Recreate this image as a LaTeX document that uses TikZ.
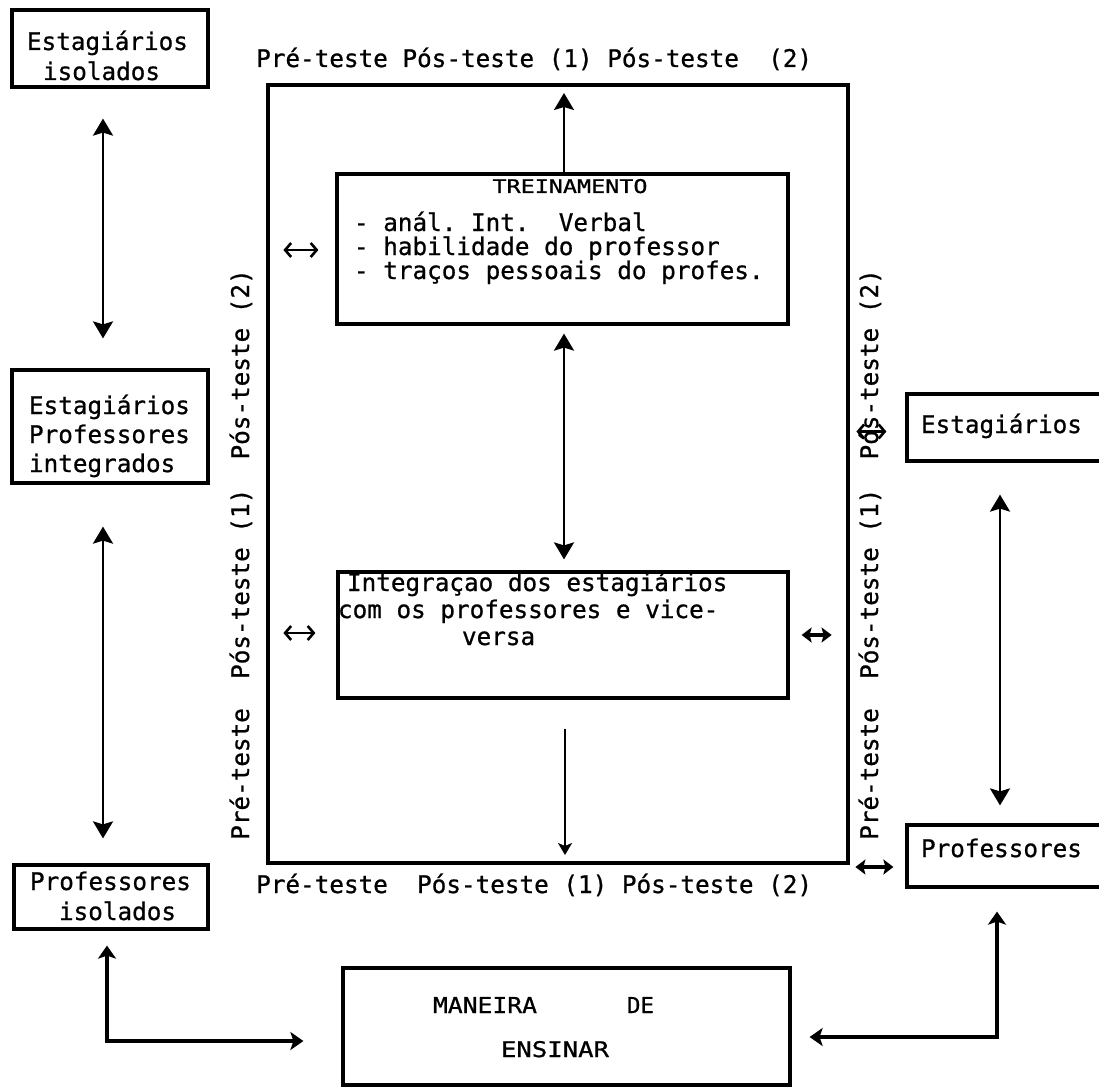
\documentclass[tikz,border=0pt]{standalone}
\usepackage{fontspec}
\usepackage{graphicx}
\usetikzlibrary{arrows.meta}
\newfontfamily\tw{DejaVu Sans Mono}[FakeBold=0.8]
\newcommand\bodyfont{\tw\fontsize{24.3}{29}\selectfont\frenchspacing}
\newcommand\fl{\rule{0pt}{21pt}}
% width, height, first baseline from top, baselineskip, content
\newcommand\tbox[5]{\parbox[c][#2][t]{#1}{\bodyfont\lineskiplimit=-100pt\relax\baselineskip=#4\relax\vspace*{\dimexpr#3-21pt\relax}#5\par}}
\tikzset{
  box/.style={draw, line width=3.2pt, inner sep=0pt, rectangle},
  lbl/.style={inner sep=0pt, font=\bodyfont},
  tall/.style={line width=2.6pt, {Stealth[length=17pt,width=20pt,inset=3pt]}-{Stealth[length=17pt,width=20pt,inset=3pt]}},
  single/.style={line width=2.4pt, -{Stealth[length=17pt,width=20pt,inset=3pt]}},
  thinarr/.style={line width=2pt, -{Stealth[length=12pt,width=14pt,inset=3pt]}},
  elbow/.style={line width=3.2pt, {Stealth[length=13pt,width=18pt,inset=3pt]}-{Stealth[length=13pt,width=18pt,inset=3pt]}},
  barb/.style={line width=2.6pt, {Straight Barb[length=6pt,width=14pt]}-{Straight Barb[length=6pt,width=14pt]}},
  boldbi/.style={line width=3.2pt, {Stealth[length=10pt,width=15pt,inset=2pt]}-{Stealth[length=10pt,width=15pt,inset=2pt]}}
}
\begin{document}
\begin{tikzpicture}[x=1pt,y=-1pt]
\fill[white] (0,0) rectangle (1099,1091);
\useasboundingbox (0,0) rectangle (1099,1091);

% left column
\node[box] (b1) at (110,48.5) {\tbox{196pt}{77pt}{40pt}{30pt}{\raggedright\hspace*{15pt}\fl Estagiários\\\hspace*{31pt}isolados}};
\node[box] (b2) at (110,426.5) {\tbox{196pt}{113pt}{44pt}{29pt}{\raggedright\leftskip=17pt\fl Estagiários\\Professores\\integrados}};
\node[box] (b3) at (111,897) {\tbox{194pt}{64pt}{25pt}{30pt}{\raggedright\hspace*{16pt}\fl Professores\\\hspace*{45pt}isolados}};

% big frame
\node[draw, line width=4pt, inner sep=0pt, minimum width=580pt, minimum height=778pt] (big) at (558,474) {};

% inner boxes
\node[box] (tr) at (562.5,249) {\parbox[c][150pt][t]{451pt}{\lineskiplimit=-100pt\relax\vspace*{5pt}\centering\hspace*{15pt}\resizebox{155pt}{14pt}{\tw TREINAMENTO}\par\vspace{14pt}\bodyfont\baselineskip=24pt\relax\lineskiplimit=-100pt\relax\raggedright\leftskip=17pt - anál. Int.~~Verbal\\- habilidade do professor\\- traços pessoais do profes.\par}};
\node[box] (integ) at (563,635) {\tbox{450pt}{126pt}{19pt}{27pt}{\raggedright\hspace*{9pt}\fl Integraçao dos estagiários\\com os professores e vice-\\\hspace*{124pt}versa}};

% right column
\node[box] (estag) at (1005.5,427.5) {\tbox{197pt}{67pt}{39pt}{29pt}{\raggedright\hspace*{14pt}\fl Estagiários}};
\node[box] (prof) at (1005.5,856) {\tbox{197pt}{62pt}{32pt}{29pt}{\raggedright\hspace*{14pt}\fl Professores}};

% bottom box
\node[box] (man) at (566.5,1026.5) {\parbox[c][117pt][t]{447pt}{\lineskiplimit=-100pt\relax\baselineskip=44pt\relax\vspace*{29pt}\raggedright\hspace*{90pt}\resizebox{104pt}{16pt}{\tw MANEIRA}\hspace{90pt}\resizebox{27pt}{16pt}{\tw DE}\\\hspace*{158pt}\resizebox{108pt}{16pt}{\tw ENSINAR}\par}};

% labels
\node[lbl, anchor=base west] (toplbl) at (256,67) {Pré-teste Pós-teste (1) Pós-teste~~(2)};
\node[lbl, anchor=base west] (botlbl) at (256,893) {Pré-teste~~Pós-teste (1) Pós-teste (2)};
\node[lbl, rotate=90, anchor=base west] (leftlbl) at (249,840) {Pré-teste~~Pós-teste (1)~~Pós-teste (2)};
\node[lbl, rotate=90, anchor=base west] (rightlbl) at (878,840) {Pré-teste~~Pós-teste (1)~~Pós-teste (2)};

% connectors
\draw[tall] ([shift={(-7,30)}]b1.south) -- ([shift={(-7,-30)}]b2.north);
\draw[tall] ([shift={(-7,42)}]b2.south) -- ([shift={(-8,-25)}]b3.north);
\draw[tall] ([shift={(-5.5,32)}]estag.south) -- ([shift={(-5.5,-18)}]prof.north);
\draw[single] ([shift={(1.5,0)}]tr.north) -- ([shift={(6,10)}]big.north);
\draw[tall] ([shift={(1.5,8)}]tr.south) -- ([shift={(1,-11)}]integ.north);
\draw[thinarr] ([shift={(2,29)}]integ.south) -- ([shift={(7,-10)}]big.south);
\draw[elbow] ([shift={(-4,15)}]b3.south) |- ([shift={(-38,14.5)}]man.west);
\draw[elbow] ([shift={(-8.5,23)}]prof.south) |- ([shift={(18,10.5)}]man.east);

% small double arrows
\draw[barb] ([shift={(-52,1)}]tr.west) -- ([shift={(-17,1)}]tr.west);
\draw[barb] ([shift={(-53,-2)}]integ.west) -- ([shift={(-21,-2)}]integ.west);
\draw[boldbi] ([shift={(12,0)}]integ.east) -- ([shift={(42,0)}]integ.east);
\draw[barb] ([shift={(-49,4)}]estag.west) -- ([shift={(-19,4)}]estag.west);
\draw[boldbi] ([shift={(-50,11)}]prof.west) -- ([shift={(-12,11)}]prof.west);
\end{tikzpicture}
\end{document}
